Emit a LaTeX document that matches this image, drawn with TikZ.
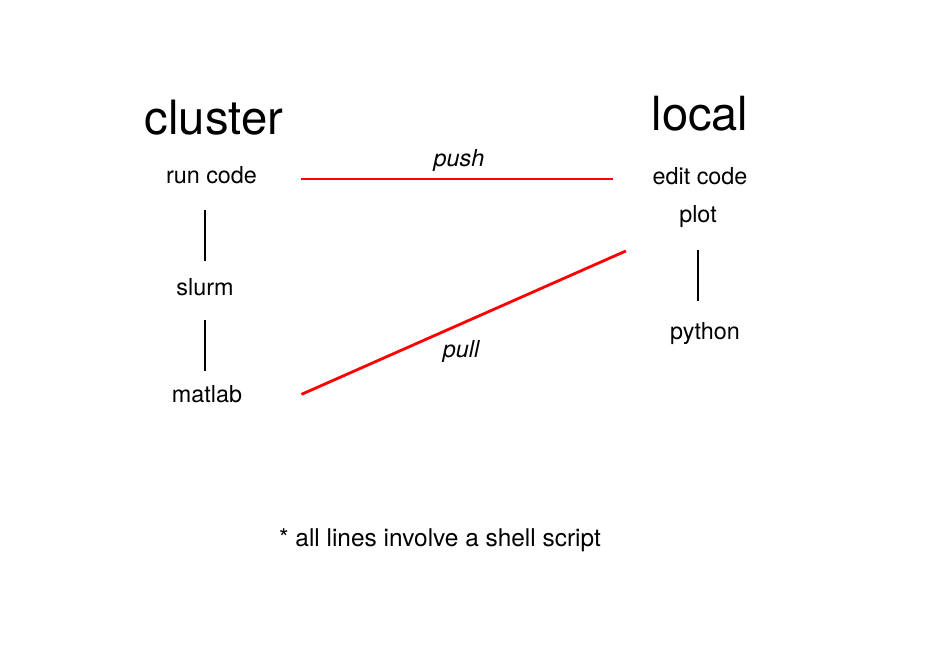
\documentclass[tikz,border=0pt]{standalone}
\usepackage{fontspec}
\setmainfont{TeX Gyre Heros}
\usetikzlibrary{calc}

\begin{document}
\begin{tikzpicture}[
		word/.style={inner sep=0, anchor=base, font=\fontsize{13.3}{15}\selectfont},
		head/.style={inner sep=0, anchor=base, font=\fontsize{#1}{30}\selectfont},
		how/.style={word, font=\fontsize{13.3}{15}\selectfont\itshape},
		link/.style={line width=1pt, black},
		pushline/.style={draw=red, line width=1.1pt},
		pullline/.style={draw=red, line width=1.6pt}
	]
			%%%%% START %%%%%
			
			\useasboundingbox (0, 0) rectangle (18.8, 13);
			
			\node[head=26.9] (cluster) at (4.28, 10.30) {cluster};
			\node[head=26.8] (local) at (14.00, 10.38) {local};
			
			\node[word] (runcode) at (4.23, 9.32) {run code};
			\node[word] (slurm) at (4.10, 7.08) {slurm};
			\node[word] (matlab) at (4.14, 4.94) {matlab};
			
			\node[word] (editcode) at (14.00, 9.30) {edit code};
			\node[word] (plot) at (13.96, 8.54) {plot};
			\node[word] (python) at (14.10, 6.20) {python};
			
			\draw[link, shorten <=0.5cm, shorten >=0.35cm] (slurm.north |- runcode.south) -- (slurm.north);
			\draw[link, shorten <=0.46cm, shorten >=0.29cm] (slurm.south) -- (slurm.south |- matlab.north);
			\draw[link, shorten <=0.44cm, shorten >=0.43cm] (plot.south) -- (plot.south |- python.north);
			
			\draw[pushline, shorten <=0.88cm, shorten >=0.78cm] (runcode.mid east) -- (runcode.mid east -| editcode.west);
			\draw[pullline] ([shift={(1.18cm, 0.08cm)}]matlab.mid east) -- ([shift={(-1.06cm, -0.45cm)}]plot.south west);
			
			\node[how] (push) at (9.18, 9.66) {push};
			\node[how] (pull) at (9.22, 5.84) {pull};
			
			\node[inner sep=0, anchor=base, font=\fontsize{13.9}{16}\selectfont] (note) at (8.80, 2.06) {* all lines involve a shell script};
			
			%%%%% END %%%%%
		\end{tikzpicture}
\end{document}
